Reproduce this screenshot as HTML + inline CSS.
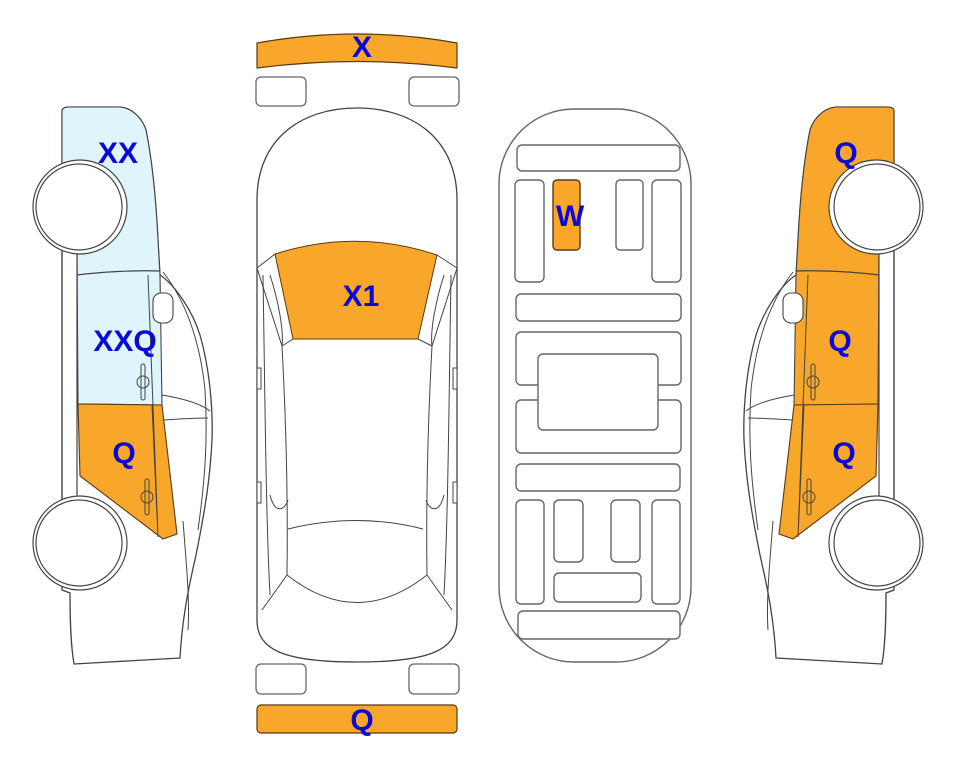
<!DOCTYPE html>
<html><head><meta charset="utf-8"><style>
html,body{margin:0;padding:0;background:#fff;}
svg{display:block;}
text{font-family:"Liberation Sans",sans-serif;font-weight:bold;fill:#0a0ad8;font-size:30px;text-anchor:middle;}
</style></head><body>
<svg width="963" height="768" viewBox="0 0 963 768" xmlns="http://www.w3.org/2000/svg">
<defs>
<g id="side">
  <!-- body outline -->
  <path d="M160,275 C175,285 192,310 200,335 C210,370 213,410 212,440 C210,480 205,510 196,555 C188,590 182,620 180,658 L74,664 C70,640 70,610 70,593 L62,590 L62,111 C62,108 65,107 70,107 L120,107 C132,108 142,118 146,130 C152,160 156,200 158,240 Z" fill="#fff" stroke="#444" stroke-width="1.3"/>
  <!-- upper panel -->
  <path d="M62,111 C62,108 65,107 70,107 L120,107 C132,108 142,118 146,130 C152,160 156,200 158,240 L160,275 L162,405 L78,404 L77,250 L62,250 Z" fill="var(--up)" stroke="#444" stroke-width="1.1"/>
  <!-- lower door panel -->
  <path d="M78,404 L162,405 L177,534 L163,539 L80,476 Z" fill="#f9a72b" stroke="#5a3a10" stroke-width="1.1"/>
  <path d="M77,250 L77,500 M62,250 L62,500" stroke="#444" stroke-width="1.2" fill="none"/>
  <path d="M77,275 C100,272 135,270 160,271" stroke="#444" stroke-width="1.2" fill="none"/>
  <path d="M148,275 L158,537 M152,405 L158,537" stroke="#444" stroke-width="1" fill="none"/>
  <path d="M163,272 C185,300 200,340 205,390 C208,440 205,480 198,530" stroke="#444" stroke-width="1" fill="none"/>
  <path d="M162,395 C180,398 200,403 210,411 M163,420 C180,419 195,418 208,418" stroke="#444" stroke-width="1" fill="none"/>
  <path d="M183,521 C186,560 190,600 188,630" stroke="#444" stroke-width="1" fill="none"/>
  <rect x="153" y="293" width="20" height="30" rx="8" fill="#fff" stroke="#444" stroke-width="1.1"/>
  <rect x="141" y="364" width="4" height="36" rx="2" fill="none" stroke="#444"/>
  <path d="M137,382 a6,6 0 0 1 12,0 a6,6 0 0 1 -12,0" fill="none" stroke="#444"/>
  <rect x="145" y="479" width="4" height="36" rx="2" fill="none" stroke="#444"/>
  <path d="M141,497 a6,6 0 0 1 12,0 a6,6 0 0 1 -12,0" fill="none" stroke="#444"/>
  <!-- wheels -->
  <circle cx="80" cy="207" r="47" fill="#fff" stroke="#444" stroke-width="1.2"/>
  <circle cx="79" cy="207" r="43" fill="#fff" stroke="#444" stroke-width="1.2"/>
  <circle cx="80" cy="543" r="47" fill="#fff" stroke="#444" stroke-width="1.2"/>
  <circle cx="79" cy="543" r="43" fill="#fff" stroke="#444" stroke-width="1.2"/>
</g>
</defs>

<!-- left car -->
<g style="--up:#dff4fb"><use href="#side"/></g>
<text x="118" y="163">XX</text>
<text x="125" y="351">XXQ</text>
<text x="124" y="463">Q</text>

<!-- right car (mirrored) -->
<g style="--up:#f9a72b" transform="translate(956,0) scale(-1,1)"><use href="#side"/></g>
<text x="846" y="163">Q</text>
<text x="840" y="351">Q</text>
<text x="844" y="463">Q</text>

<!-- top view -->
<path d="M257,43 Q357,25 457,43 L457,68 Q357,55 257,68 Z" fill="#f9a72b" stroke="#5a3a10" stroke-width="1.2" stroke-linejoin="round"/>
<text x="362" y="57">X</text>
<rect x="256" y="77" width="50" height="29" rx="5" fill="#fff" stroke="#666" stroke-width="1.3"/>
<rect x="409" y="77" width="50" height="29" rx="5" fill="#fff" stroke="#666" stroke-width="1.3"/>
<path d="M257,620 L257,200 C257,140 300,108 357,108 C414,108 457,140 457,200 L457,620 C457,650 430,662 357,662 C284,662 257,650 257,620 Z" fill="#fff" stroke="#444" stroke-width="1.3"/>
<path d="M275,254 Q357,228 437,255 L418,339 L293,339 Z" fill="#f9a72b" stroke="#5a3a10" stroke-width="1"/>
<text x="361" y="306">X1</text>
<path d="M257,268 L275,254 M457,268 L437,255 M257,268 L282,346 L293,339 M457,268 L432,346 L418,339" stroke="#444" fill="none"/>
<path d="M263,275 C265,400 266,520 270,595 M451,275 C449,400 448,520 444,595" stroke="#444" fill="none"/>
<path d="M282,346 C286,420 288,500 287,575 M432,346 C428,420 426,500 427,575" stroke="#444" fill="none"/>
<path d="M270,275 C278,300 284,330 282,346 M444,275 C436,300 430,330 432,346" stroke="#444" fill="none"/>
<path d="M288,529 Q357,512 423,529 M287,575 Q357,630 427,575" stroke="#444" fill="none"/>
<path d="M270,495 C275,515 285,510 288,500 M444,495 C439,515 429,510 426,500" stroke="#444" fill="none"/>
<path d="M287,575 L262,610 M427,575 L452,610" stroke="#444" fill="none"/>
<rect x="257" y="368" width="4" height="21" fill="#fff" stroke="#444"/>
<rect x="257" y="482" width="4" height="21" fill="#fff" stroke="#444"/>
<rect x="453" y="368" width="4" height="21" fill="#fff" stroke="#444"/>
<rect x="453" y="482" width="4" height="21" fill="#fff" stroke="#444"/>
<rect x="256" y="664" width="50" height="30" rx="5" fill="#fff" stroke="#666" stroke-width="1.3"/>
<rect x="409" y="664" width="50" height="30" rx="5" fill="#fff" stroke="#666" stroke-width="1.3"/>
<rect x="257" y="705" width="200" height="28" rx="4" fill="#f9a72b" stroke="#5a3a10" stroke-width="1.2"/>
<text x="362" y="730">Q</text>

<!-- underside -->
<g fill="#fff" stroke="#666" stroke-width="1.4">
<rect x="499" y="109" width="192" height="553" rx="75"/>
<rect x="517" y="145" width="163" height="26" rx="5"/>
<rect x="515" y="180" width="29" height="102" rx="5"/>
<rect x="553" y="180" width="27" height="70" rx="4" fill="#f9a72b" stroke="#5a3a10"/>
<rect x="616" y="180" width="27" height="70" rx="4"/>
<rect x="652" y="180" width="29" height="102" rx="5"/>
<rect x="516" y="294" width="165" height="27" rx="5"/>
<rect x="516" y="332" width="165" height="53" rx="5"/>
<rect x="516" y="400" width="165" height="53" rx="5"/>
<rect x="538" y="354" width="120" height="76" rx="5"/>
<rect x="516" y="464" width="164" height="27" rx="5"/>
<rect x="516" y="500" width="28" height="104" rx="5"/>
<rect x="554" y="500" width="29" height="62" rx="5"/>
<rect x="611" y="500" width="29" height="62" rx="5"/>
<rect x="652" y="500" width="28" height="104" rx="5"/>
<rect x="554" y="573" width="87" height="29" rx="5"/>
<rect x="518" y="611" width="162" height="28" rx="5"/>
</g>
<text x="570" y="226">W</text>
</svg>
</body></html>
